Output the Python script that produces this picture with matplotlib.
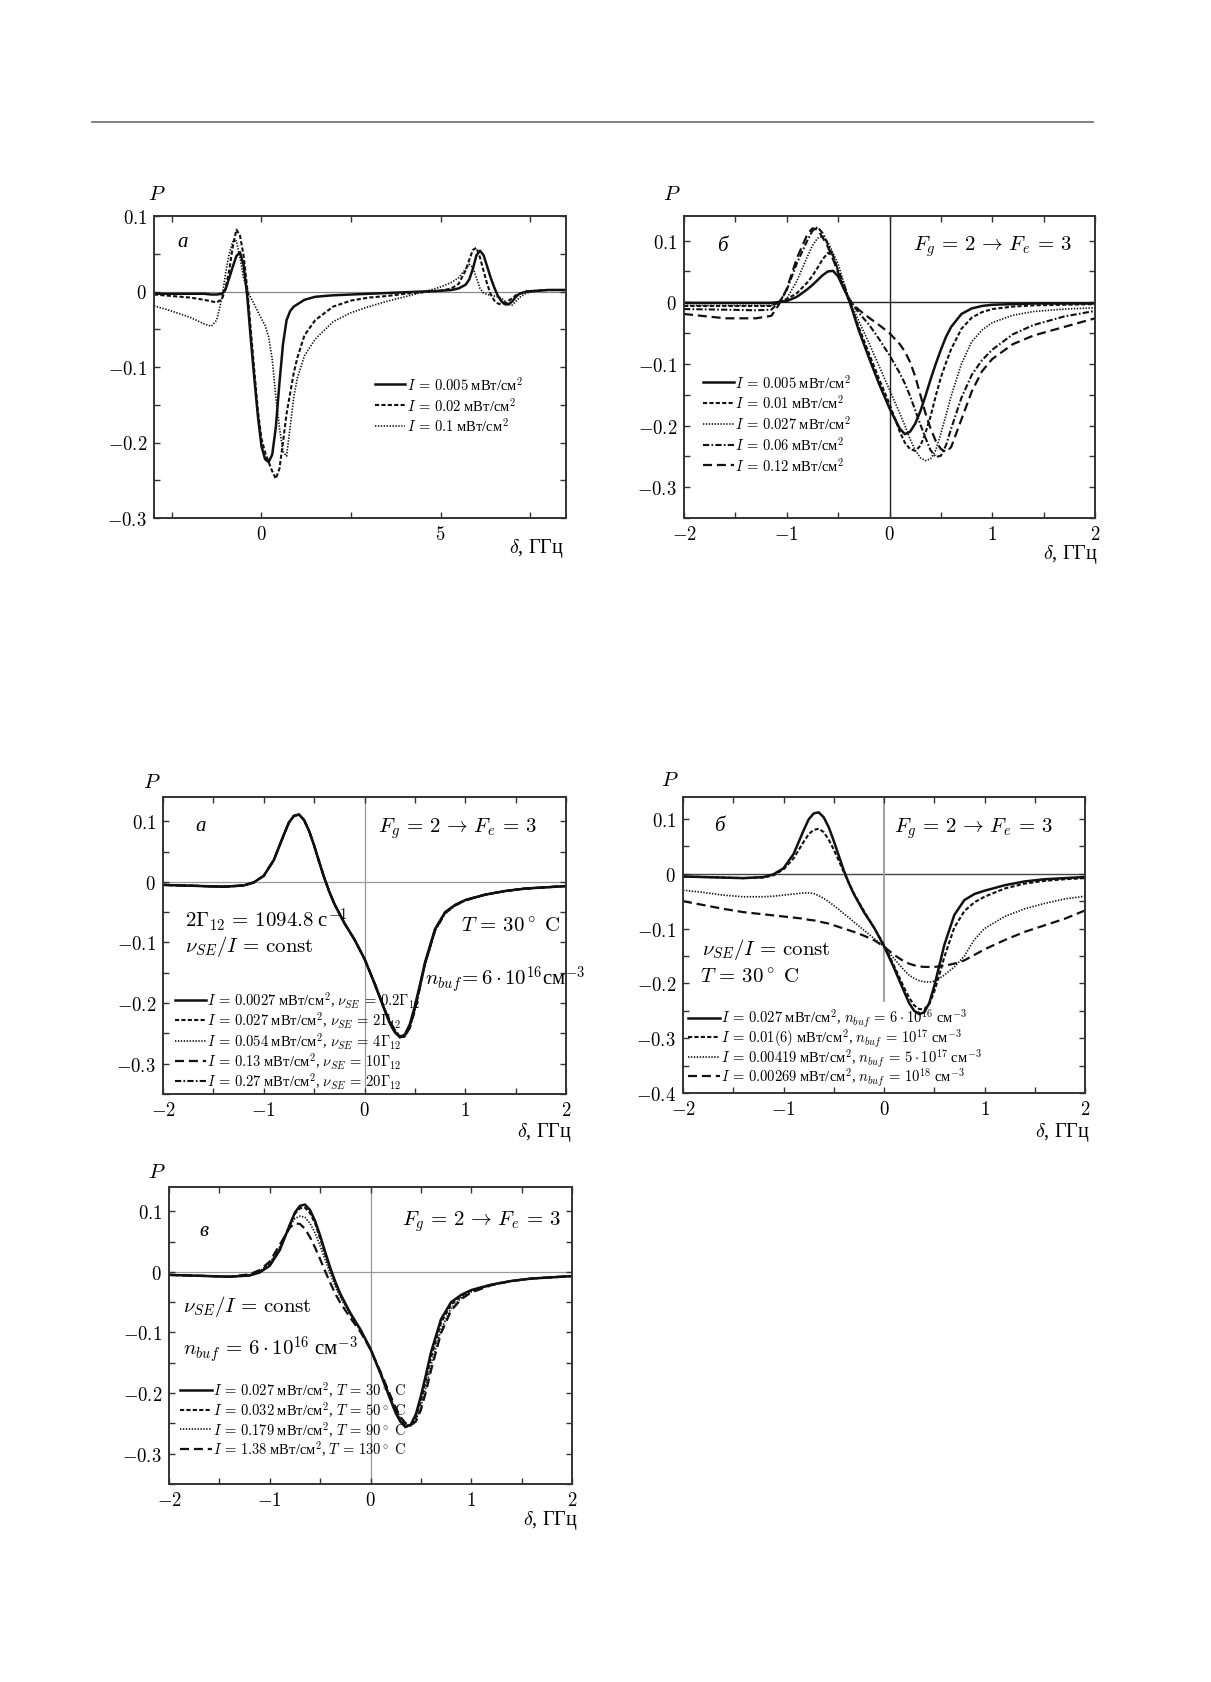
import matplotlib
matplotlib.use('Agg')
import matplotlib.pyplot as plt
from matplotlib.lines import Line2D
from matplotlib.ticker import MultipleLocator

plt.rcParams['font.family'] = ['Liberation Serif', 'DejaVu Serif']
plt.rcParams['mathtext.fontset'] = 'cm'
plt.rcParams['lines.scale_dashes'] = False
plt.rcParams['axes.unicode_minus'] = True

# ---------------- DATA ----------------
# Panel a (top-left): detuning grid and P for three intensities
X1 = [-3.0, -2.5, -2.0, -1.6, -1.4, -1.25, -1.1, -1.0, -0.9, -0.8,
      -0.7, -0.6, -0.5, -0.4, -0.3, -0.2, -0.1, 0.0, 0.1, 0.2,
      0.3, 0.4, 0.5, 0.6, 0.7, 0.8, 0.9, 1.0, 1.2, 1.5,
      2.0, 2.5, 3.0, 3.5, 4.0, 4.5, 5.0, 5.3, 5.5, 5.7,
      5.8, 5.9, 6.0, 6.1, 6.2, 6.3, 6.4, 6.5, 6.6, 6.7,
      6.8, 6.9, 7.0, 7.1, 7.2, 7.4, 7.7, 8.0, 8.5]
P1_I0005 = [-0.003, -0.003, -0.003, -0.003, -0.004, -0.004, -0.003, 0.003, 0.018, 0.033,
            0.047, 0.052, 0.035, -0.005, -0.062, -0.115, -0.165, -0.205, -0.222, -0.226,
            -0.216, -0.18, -0.122, -0.07, -0.038, -0.026, -0.02, -0.017, -0.011, -0.007,
            -0.005, -0.004, -0.003, -0.002, -0.001, 0.0, 0.001, 0.002, 0.004, 0.009,
            0.016, 0.03, 0.048, 0.054, 0.048, 0.033, 0.018, 0.005, -0.006, -0.013,
            -0.017, -0.017, -0.013, -0.007, -0.003, 0.0, 0.001, 0.002, 0.002]
P1_I002 = [-0.004, -0.006, -0.008, -0.011, -0.013, -0.0145, -0.010, 0.005, 0.028, 0.06,
           0.082, 0.074, 0.048, 0.005, -0.05, -0.105, -0.158, -0.195, -0.213, -0.226,
           -0.238, -0.248, -0.235, -0.2, -0.162, -0.135, -0.108, -0.088, -0.058, -0.038,
           -0.02, -0.012, -0.008, -0.006, -0.003, -0.001, 0.001, 0.004, 0.01, 0.028,
           0.042, 0.055, 0.058, 0.045, 0.027, 0.01, -0.004, -0.012, -0.016, -0.017,
           -0.015, -0.012, -0.009, -0.005, -0.003, 0.0, 0.001, 0.002, 0.002]
P1_I01 = [-0.019, -0.026, -0.034, -0.043, -0.046, -0.038, -0.008, 0.025, 0.05, 0.066,
          0.067, 0.045, 0.018, 0.002, -0.008, -0.017, -0.027, -0.036, -0.045, -0.06,
          -0.09, -0.14, -0.18, -0.212, -0.218, -0.18, -0.14, -0.115, -0.085, -0.063,
          -0.04, -0.028, -0.02, -0.013, -0.007, -0.001, 0.006, 0.012, 0.018, 0.03,
          0.036, 0.032, 0.018, 0.004, -0.002, -0.004, -0.005, -0.006, -0.007, -0.009,
          -0.013, -0.017, -0.018, -0.013, -0.008, -0.002, 0.001, 0.002, 0.002]
LABELS1 = [r'$I\,=\,0.005$ мВт/см$^2$', r'$I\,=\,0.02$ мВт/см$^2$', r'$I\,=\,0.1$ мВт/см$^2$']

# Panel b (top-right)
X2 = [-2.0, -1.6, -1.3, -1.15, -1.1, -1.05, -1.0, -0.9, -0.8, -0.75,
      -0.7, -0.65, -0.6, -0.55, -0.5, -0.45, -0.4, -0.3, -0.2, -0.1,
      0.0, 0.1, 0.15, 0.2, 0.25, 0.3, 0.35, 0.4, 0.45, 0.5,
      0.55, 0.6, 0.7, 0.8, 0.9, 1.0, 1.2, 1.4, 1.7, 2.0]
P2_I0005 = [-0.001, -0.001, -0.001, -0.001, 0.0, 0.001, 0.002, 0.009, 0.021, 0.028,
            0.036, 0.044, 0.05, 0.051, 0.042, 0.024, 0.007, -0.045, -0.09, -0.133,
            -0.172, -0.205, -0.214, -0.21, -0.197, -0.177, -0.152, -0.125, -0.1, -0.077,
            -0.056, -0.04, -0.019, -0.01, -0.006, -0.004, -0.003, -0.002, -0.002, -0.002]
P2_I001 = [-0.006, -0.006, -0.006, -0.006, -0.002, 0.002, 0.005, 0.015, 0.032, 0.043,
           0.056, 0.07, 0.08, 0.076, 0.05, 0.025, 0.006, -0.04, -0.083, -0.125,
           -0.165, -0.21, -0.228, -0.238, -0.241, -0.233, -0.212, -0.185, -0.152, -0.122,
           -0.098, -0.076, -0.043, -0.025, -0.016, -0.011, -0.007, -0.005, -0.004, -0.003]
P2_I0027 = [-0.005, -0.005, -0.005, -0.005, -0.001, 0.002, 0.006, 0.035, 0.074, 0.092,
            0.104, 0.107, 0.098, 0.08, 0.062, 0.035, 0.008, -0.03, -0.066, -0.104,
            -0.142, -0.18, -0.2, -0.222, -0.24, -0.252, -0.257, -0.254, -0.24, -0.213,
            -0.183, -0.152, -0.1, -0.064, -0.045, -0.033, -0.021, -0.015, -0.011, -0.009]
P2_I006 = [-0.011, -0.012, -0.013, -0.012, -0.004, 0.006, 0.02, 0.064, 0.1, 0.116,
           0.122, 0.112, 0.094, 0.075, 0.052, 0.032, 0.008, -0.017, -0.036, -0.06,
           -0.086, -0.115, -0.132, -0.152, -0.175, -0.198, -0.22, -0.24, -0.251, -0.249,
           -0.232, -0.205, -0.155, -0.118, -0.094, -0.077, -0.052, -0.037, -0.023, -0.014]
P2_I012 = [-0.019, -0.026, -0.026, -0.022, -0.01, 0.004, 0.022, 0.072, 0.11, 0.12,
           0.118, 0.105, 0.09, 0.07, 0.048, 0.025, 0.005, -0.012, -0.025, -0.037,
           -0.05, -0.068, -0.08, -0.097, -0.12, -0.15, -0.18, -0.205, -0.225, -0.238,
           -0.243, -0.235, -0.19, -0.145, -0.112, -0.092, -0.068, -0.054, -0.04, -0.026]
LABELS2 = [r'$I\,=\,0.005$ мВт/см$^2$', r'$I\,=\,0.01$ мВт/см$^2$', r'$I\,=\,0.027$ мВт/см$^2$',
           r'$I\,=\,0.06$ мВт/см$^2$', r'$I\,=\,0.12$ мВт/см$^2$']

# Panels a, b, v (lower figure) share a detuning grid
X3 = [-2.0, -1.8, -1.6, -1.4, -1.2, -1.1, -1.0, -0.9, -0.8, -0.75,
      -0.7, -0.65, -0.6, -0.55, -0.5, -0.45, -0.4, -0.35, -0.3, -0.2,
      -0.1, 0.0, 0.1, 0.2, 0.25, 0.3, 0.35, 0.4, 0.45, 0.5,
      0.55, 0.6, 0.7, 0.8, 0.9, 1.0, 1.2, 1.4, 1.6, 1.8, 2.0]
P3_A = [-0.005, -0.006, -0.007, -0.008, -0.006, -0.001, 0.010, 0.036, 0.078, 0.098,
        0.109, 0.111, 0.102, 0.084, 0.060, 0.033, 0.007, -0.016, -0.036, -0.068,
        -0.095, -0.127, -0.168, -0.212, -0.233, -0.248, -0.256, -0.252, -0.235, -0.205,
        -0.170, -0.133, -0.078, -0.050, -0.038, -0.030, -0.021, -0.015, -0.011, -0.009, -0.007]
P3_B = [-0.005, -0.006, -0.007, -0.008, -0.006, -0.001, 0.010, 0.036, 0.078, 0.098,
        0.109, 0.111, 0.102, 0.084, 0.060, 0.033, 0.007, -0.016, -0.036, -0.068,
        -0.095, -0.127, -0.168, -0.211, -0.232, -0.247, -0.257, -0.254, -0.237, -0.207,
        -0.171, -0.134, -0.078, -0.050, -0.038, -0.030, -0.021, -0.015, -0.011, -0.009, -0.007]
P3_C = [-0.005, -0.006, -0.007, -0.008, -0.006, -0.001, 0.010, 0.036, 0.078, 0.098,
        0.109, 0.111, 0.102, 0.084, 0.060, 0.033, 0.007, -0.016, -0.036, -0.068,
        -0.095, -0.127, -0.168, -0.211, -0.231, -0.246, -0.256, -0.255, -0.239, -0.209,
        -0.172, -0.135, -0.079, -0.051, -0.038, -0.030, -0.021, -0.015, -0.011, -0.009, -0.007]
P3_D = [-0.005, -0.006, -0.007, -0.008, -0.006, -0.001, 0.010, 0.036, 0.078, 0.098,
        0.109, 0.111, 0.102, 0.084, 0.060, 0.033, 0.007, -0.016, -0.036, -0.068,
        -0.095, -0.127, -0.167, -0.210, -0.230, -0.245, -0.255, -0.256, -0.240, -0.211,
        -0.174, -0.136, -0.080, -0.051, -0.039, -0.030, -0.021, -0.015, -0.011, -0.009, -0.007]
P3_E = [-0.005, -0.006, -0.007, -0.008, -0.006, -0.001, 0.010, 0.036, 0.078, 0.098,
        0.109, 0.111, 0.102, 0.084, 0.060, 0.033, 0.007, -0.016, -0.036, -0.068,
        -0.095, -0.127, -0.167, -0.210, -0.229, -0.244, -0.254, -0.255, -0.241, -0.212,
        -0.175, -0.137, -0.081, -0.052, -0.039, -0.031, -0.021, -0.015, -0.011, -0.009, -0.007]
LABELS3 = [r'$I\,=\,0.0027$ мВт/см$^2$, $\nu_{SE}\,=\,0.2\Gamma_{12}$',
           r'$I\,=\,0.027$ мВт/см$^2$, $\nu_{SE}\,=\,2\Gamma_{12}$',
           r'$I\,=\,0.054$ мВт/см$^2$, $\nu_{SE}\,=\,4\Gamma_{12}$',
           r'$I\,=\,0.13$ мВт/см$^2$, $\nu_{SE}\,=\,10\Gamma_{12}$',
           r'$I\,=\,0.27$ мВт/см$^2$, $\nu_{SE}\,=\,20\Gamma_{12}$']

P4_N6E16 = [-0.005, -0.006, -0.007, -0.008, -0.006, -0.001, 0.010, 0.036, 0.079, 0.099,
            0.110, 0.112, 0.103, 0.085, 0.060, 0.033, 0.006, -0.017, -0.037, -0.070,
            -0.098, -0.132, -0.172, -0.215, -0.236, -0.250, -0.256, -0.253, -0.236, -0.205,
            -0.168, -0.130, -0.075, -0.048, -0.037, -0.031, -0.021, -0.014, -0.010, -0.008, -0.006]
P4_N1E17 = [-0.005, -0.006, -0.007, -0.008, -0.007, -0.003, 0.008, 0.028, 0.058, 0.072,
            0.080, 0.082, 0.076, 0.062, 0.044, 0.024, 0.003, -0.017, -0.036, -0.068,
            -0.098, -0.130, -0.168, -0.208, -0.226, -0.240, -0.247, -0.247, -0.238, -0.215,
            -0.185, -0.152, -0.098, -0.068, -0.052, -0.042, -0.027, -0.018, -0.013, -0.010, -0.008]
P4_N5E17 = [-0.030, -0.034, -0.039, -0.042, -0.042, -0.041, -0.039, -0.037, -0.035, -0.035,
            -0.036, -0.040, -0.045, -0.051, -0.058, -0.065, -0.073, -0.080, -0.088, -0.103,
            -0.118, -0.133, -0.155, -0.176, -0.185, -0.191, -0.195, -0.197, -0.198, -0.196,
            -0.191, -0.185, -0.170, -0.150, -0.120, -0.100, -0.078, -0.064, -0.054, -0.046, -0.041]
P4_N1E18 = [-0.050, -0.057, -0.064, -0.070, -0.074, -0.076, -0.078, -0.080, -0.082, -0.084,
            -0.085, -0.087, -0.089, -0.091, -0.094, -0.097, -0.100, -0.103, -0.106, -0.113,
            -0.121, -0.133, -0.148, -0.160, -0.164, -0.167, -0.169, -0.170, -0.170, -0.170,
            -0.169, -0.168, -0.164, -0.158, -0.148, -0.138, -0.121, -0.106, -0.094, -0.082, -0.067]
LABELS4 = [r'$I\,=\,0.027$ мВт/см$^2$, $n_{buf}\,=\,6\cdot 10^{16}$ см$^{-3}$',
           r'$I\,=\,0.01(6)$ мВт/см$^2$, $n_{buf}\,=\,10^{17}$ см$^{-3}$',
           r'$I\,=\,0.00419$ мВт/см$^2$, $n_{buf}\,=\,5\cdot 10^{17}$ см$^{-3}$',
           r'$I\,=\,0.00269$ мВт/см$^2$, $n_{buf}\,=\,10^{18}$ см$^{-3}$']

P5_T30 = P3_A
P5_T50 = [-0.005, -0.006, -0.007, -0.008, -0.006, 0.000, 0.012, 0.038, 0.078, 0.096,
          0.105, 0.106, 0.097, 0.080, 0.055, 0.029, 0.004, -0.018, -0.038, -0.069,
          -0.096, -0.128, -0.168, -0.210, -0.230, -0.246, -0.254, -0.253, -0.240, -0.213,
          -0.178, -0.142, -0.084, -0.054, -0.040, -0.031, -0.021, -0.015, -0.011, -0.009, -0.007]
P5_T90 = [-0.005, -0.006, -0.007, -0.008, -0.005, 0.001, 0.014, 0.042, 0.076, 0.088,
          0.092, 0.090, 0.080, 0.064, 0.043, 0.020, -0.003, -0.024, -0.042, -0.071,
          -0.097, -0.128, -0.166, -0.207, -0.227, -0.243, -0.252, -0.254, -0.245, -0.222,
          -0.190, -0.155, -0.095, -0.060, -0.043, -0.033, -0.022, -0.015, -0.011, -0.009, -0.007]
P5_T130 = [-0.005, -0.006, -0.007, -0.008, -0.004, 0.003, 0.017, 0.045, 0.073, 0.080,
           0.079, 0.071, 0.057, 0.040, 0.021, 0.001, -0.018, -0.036, -0.051, -0.076,
           -0.099, -0.128, -0.165, -0.205, -0.224, -0.240, -0.250, -0.253, -0.247, -0.228,
           -0.198, -0.163, -0.101, -0.064, -0.045, -0.034, -0.022, -0.015, -0.011, -0.009, -0.007]
LABELS5 = [r'$I\,=\,0.027$ мВт/см$^2$, $T\,=\,30^\circ\ \mathrm{C}$',
           r'$I\,=\,0.032$ мВт/см$^2$, $T\,=\,50^\circ\ \mathrm{C}$',
           r'$I\,=\,0.179$ мВт/см$^2$, $T\,=\,90^\circ\ \mathrm{C}$',
           r'$I\,=\,1.38$ мВт/см$^2$, $T\,=\,130^\circ\ \mathrm{C}$']

YT1 = [-0.3, -0.2, -0.1, 0.0, 0.1]
YT4 = [-0.4, -0.3, -0.2, -0.1, 0.0, 0.1]
YL1 = [r'$-0.3$', r'$-0.2$', r'$-0.1$', r'$0$', r'$0.1$']
YL4 = [r'$-0.4$', r'$-0.3$', r'$-0.2$', r'$-0.1$', r'$0$', r'$0.1$']
XT = [-2, -1, 0, 1, 2]
XL = [r'$-2$', r'$-1$', r'$0$', r'$1$', r'$2$']
XT1 = [0, 5]
XL1 = [r'$0$', r'$5$']

# ---------------- STYLE ----------------
SOLID = dict(ls='-', lw=1.8)
SHORT = dict(ls=(0, (3.0, 1.6)), lw=1.5)
DOT = dict(ls=(0, (1.0, 1.1)), lw=1.2)
DASHDOT = dict(ls=(0, (4.5, 1.6, 1.2, 1.6)), lw=1.5)
LONG = dict(ls=(0, (6.5, 3.5)), lw=1.6)
INK = '#111111'
SPINE = '#333333'

W, H = 1211, 1683
fig = plt.figure(figsize=(W / 100, H / 100), dpi=100)


def rect(x0, y0, x1, y1):
    return [x0 / W, 1 - y1 / H, (x1 - x0) / W, (y1 - y0) / H]


def ftext(x, y, s, **kw):
    fig.text(x / W, 1 - y / H, s, **kw)


fig.add_artist(Line2D([92 / W, 1093 / W], [1 - 123 / H, 1 - 123 / H],
                      color='#777777', lw=1.3))


def setup(ax, xlim, ylim, xt, xl, xminor, yt, yl):
    ax.set_xlim(xlim)
    ax.set_ylim(ylim)
    ax.set_xticks(xt)
    ax.set_xticklabels(xl)
    ax.set_yticks(yt)
    ax.set_yticklabels(yl)
    ax.xaxis.set_minor_locator(MultipleLocator(xminor))
    ax.yaxis.set_minor_locator(MultipleLocator(0.05))
    ax.tick_params(which='both', direction='in', top=True, right=True,
                   length=4.5, width=1.0, color=SPINE, labelsize=13.5, pad=5)
    for s in ax.spines.values():
        s.set_linewidth(1.4)
        s.set_color(SPINE)


LEGFS = 10.5


def legend(ax, x, y, hl=2.1, sp=0.05):
    ax.legend(loc='upper left', bbox_to_anchor=(x, y), frameon=False,
              fontsize=LEGFS, handlelength=hl, handletextpad=0.1,
              labelspacing=sp, borderpad=0, borderaxespad=0)


TXT = 15

# ---- Panel 1 ----
ax1 = fig.add_axes(rect(154, 217, 566, 519))
setup(ax1, (-3, 8.5), (-0.3, 0.1), XT1, XL1, 2.5, YT1, YL1)
ax1.axhline(0, color='#888888', lw=0.9, zorder=1)
for ys, st, lab in zip([P1_I0005, P1_I002, P1_I01], [SOLID, SHORT, DOT], LABELS1):
    ax1.plot(X1, ys, color=INK, label=lab, **st)
legend(ax1, 0.536, 0.475, sp=0.2)
ax1.text(-2.2, 0.066, 'а', fontsize=TXT, fontstyle='italic', ha='center', va='center')

# ---- Panel 2 ----
ax2 = fig.add_axes(rect(684, 217, 1095, 519))
setup(ax2, (-2, 2), (-0.35, 0.14), XT, XL, 0.5, YT1, YL1)
ax2.axhline(0, color='#222222', lw=1.0, zorder=1)
ax2.axvline(0, color='#222222', lw=1.0, zorder=1)
for ys, st, lab in zip([P2_I0005, P2_I001, P2_I0027, P2_I006, P2_I012],
                       [SOLID, SHORT, DOT, DASHDOT, LONG], LABELS2):
    ax2.plot(X2, ys, color=INK, label=lab, **st)
legend(ax2, 0.047, 0.482, sp=0.2)
ax2.text(-1.63, 0.092, 'б', fontsize=TXT, fontstyle='italic', ha='center', va='center')
ax2.text(0.23, 0.092, r'$F_g\,=\,2\,\rightarrow\,F_e\,=\,3$', fontsize=TXT, ha='left', va='center')

# ---- Panel 3 ----
ax3 = fig.add_axes(rect(163, 798, 566, 1095))
setup(ax3, (-2, 2), (-0.35, 0.14), XT, XL, 0.5, YT1, YL1)
ax3.axhline(0, color='#999999', lw=0.9, zorder=1)
ax3.axvline(0, color='#999999', lw=0.9, zorder=1)
for ys, st, lab in zip([P3_A, P3_B, P3_C, P3_D, P3_E],
                       [SOLID, SHORT, DOT, LONG, DASHDOT], LABELS3):
    ax3.plot(X3, ys, color=INK, label=lab, **st)
legend(ax3, 0.03, 0.352, sp=0.0)
ax3.text(-1.63, 0.093, 'а', fontsize=TXT, fontstyle='italic', ha='center', va='center')
ax3.text(0.135, 0.09, r'$F_g\,=\,2\,\rightarrow\,F_e\,=\,3$', fontsize=TXT, ha='left', va='center')
ax3.text(-1.785, -0.061, r'$2\Gamma_{12}\,=\,1094.8$ с$^{-1}$', fontsize=TXT, ha='left', va='center')
ax3.text(-1.785, -0.105, r'$\nu_{SE}/I\,=\,\mathrm{const}$', fontsize=TXT, ha='left', va='center')
ax3.text(0.96, -0.075, r'$T\,=\,30^\circ\ \mathrm{C}$', fontsize=TXT, ha='left', va='center')
ax3.text(0.6, -0.16, r'$n_{buf}\!=6\cdot 10^{16}$см$^{-3}$', fontsize=TXT, ha='left', va='center')

# ---- Panel 4 ----
ax4 = fig.add_axes(rect(683, 798, 1085, 1094))
setup(ax4, (-2, 2), (-0.4, 0.14), XT, XL, 0.5, YT4, YL4)
ax4.axhline(0, color='#444444', lw=1.0, zorder=1)
ax4.axvline(0, ymin=(-0.232 + 0.4) / 0.54, color='#999999', lw=1.3, zorder=1)
for ys, st, lab in zip([P4_N6E16, P4_N1E17, P4_N5E17, P4_N1E18],
                       [SOLID, SHORT, DOT, LONG], LABELS4):
    ax4.plot(X3, ys, color=INK, label=lab, **st)
legend(ax4, 0.012, 0.29, hl=2.2, sp=-0.18)
ax4.text(-1.64, 0.088, 'б', fontsize=TXT, fontstyle='italic', ha='center', va='center')
ax4.text(0.095, 0.085, r'$F_g\,=\,2\,\rightarrow\,F_e\,=\,3$', fontsize=TXT, ha='left', va='center')
ax4.text(-1.81, -0.136, r'$\nu_{SE}/I\,=\,\mathrm{const}$', fontsize=TXT, ha='left', va='center')
ax4.text(-1.83, -0.19, r'$T\,=\,30^\circ\ \mathrm{C}$', fontsize=TXT, ha='left', va='center')

# ---- Panel 5 ----
ax5 = fig.add_axes(rect(169, 1188, 572, 1485))
setup(ax5, (-2, 2), (-0.35, 0.14), XT, XL, 0.5, YT1, YL1)
ax5.axhline(0, color='#999999', lw=0.9, zorder=1)
ax5.axvline(0, color='#999999', lw=0.9, zorder=1)
for ys, st, lab in zip([P5_T30, P5_T50, P5_T90, P5_T130],
                       [SOLID, SHORT, DOT, LONG], LABELS5):
    ax5.plot(X3, ys, color=INK, label=lab, **st)
legend(ax5, 0.027, 0.352, hl=2.2, sp=0.02)
ax5.text(-1.65, 0.068, 'в', fontsize=TXT, fontstyle='italic', ha='center', va='center')
ax5.text(0.31, 0.085, r'$F_g\,=\,2\,\rightarrow\,F_e\,=\,3$', fontsize=TXT, ha='left', va='center')
ax5.text(-1.86, -0.056, r'$\nu_{SE}/I\,=\,\mathrm{const}$', fontsize=TXT, ha='left', va='center')
ax5.text(-1.86, -0.127, r'$n_{buf}\,=\,6\cdot 10^{16}$ см$^{-3}$', fontsize=TXT, ha='left', va='center')

# ---- axis captions ----
for (px, py) in [(157, 195), (672, 196), (152, 783), (670, 782), (157, 1173)]:
    ftext(px, py, r'$P$', fontsize=15, ha='center', va='center')
for (px, py) in [(564, 548), (1098, 555), (572, 1133), (1090, 1133), (578, 1521)]:
    ftext(px, py, r'$\delta$, ГГц', fontsize=14.5, ha='right', va='center')

fig.savefig('out.png', dpi=100, facecolor='white')
